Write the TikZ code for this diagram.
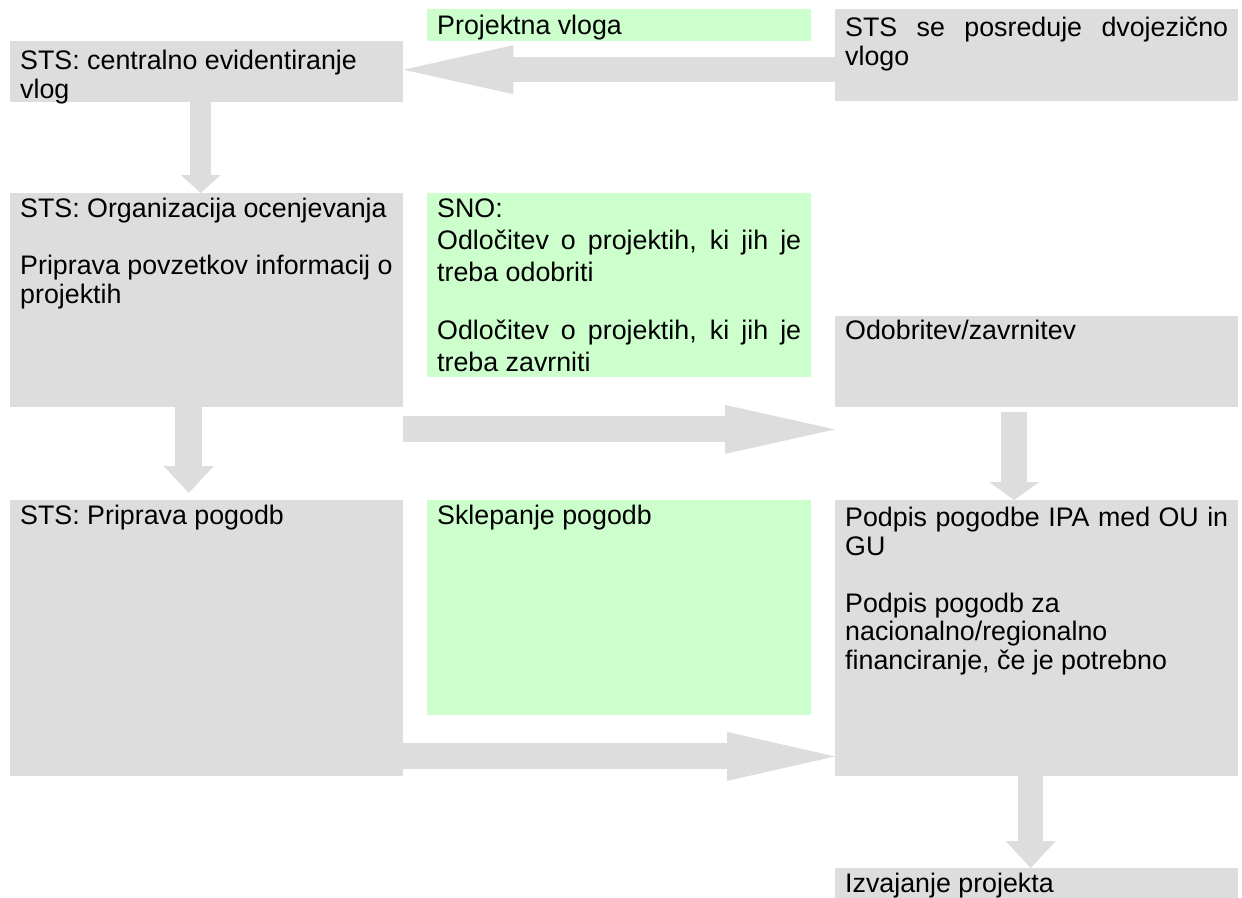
\documentclass[tikz,border=0pt]{standalone}
\usepackage{fontspec}
\setmainfont{Liberation Sans}
\usepackage{tikz}
\usetikzlibrary{arrows.meta}
\definecolor{boxGrey}{RGB}{221,221,221}
\definecolor{boxGreen}{RGB}{204,255,204}
\tikzstyle{flowchart} = [x = 1pt, y = -1pt, font=\fontsize{26.8}{28.5}\selectfont]
\tikzstyle{greyBox} = [fill=boxGrey, anchor=north west, inner xsep=10pt]
\tikzstyle{greenBox} = [fill=boxGreen, anchor=north west, inner xsep=10pt]
\tikzstyle{blockLine} = [draw=boxGrey]
\newcommand{\flowBox}[8]{\node [#2, inner ysep=#7pt] (#1) at (#3,#4) {\parbox[t][\dimexpr #6pt-#7pt-#7pt\relax][t]{\dimexpr #5pt-20pt\relax}{#8}};}
\newcommand{\blockArrow}[5]{\draw [blockLine, line width=#3pt, -{Triangle[length=#5pt, width=#4pt, line width=0pt]}] #1 -- #2;}

\begin{document}
\begin{tikzpicture}[flowchart]
          \useasboundingbox [fill=white] (0,0) rectangle (1242,897);
          \flowBox{projektnaVloga}{greenBox}{427}{9}{384}{30}{6}{Projektna vloga}
          \flowBox{centralnaEvid}{greyBox}{10}{41}{393}{61}{9}{STS: centralno evidentiranje\newline vlog}
          \flowBox{posredujeVlogo}{greyBox}{835}{9}{403}{92}{8}{STS se posreduje dvojezično\linebreak vlogo}
          \flowBox{organizacija}{greyBox}{10}{193}{393}{214}{5}{STS: Organizacija ocenjevanja\\[\baselineskip]Priprava povzetkov informacij o\newline projektih}
          \flowBox{odlocitevSNO}{greenBox}{427}{193}{384}{184}{6}{\fontsize{26.8}{32}\selectfont SNO:\newline Odločitev o projektih, ki jih je\linebreak treba odobriti\\[26pt]Odločitev o projektih, ki jih je\linebreak treba zavrniti}
          \flowBox{odobritev}{greyBox}{835}{316}{403}{91}{4}{Odobritev/zavrnitev}
          \flowBox{pripravaPogodb}{greyBox}{10}{500}{393}{276}{5}{STS: Priprava pogodb}
          \flowBox{sklepanje}{greenBox}{427}{500}{384}{215}{5}{Sklepanje pogodb}
          \flowBox{podpis}{greyBox}{835}{500}{403}{276}{7}{Podpis pogodbe IPA med OU in\linebreak GU\\[\baselineskip]Podpis pogodb za\newline nacionalno/regionalno\newline financiranje, če je potrebno}
          \flowBox{izvajanje}{greyBox}{835}{868}{403}{29}{5}{Izvajanje projekta}

          \blockArrow{([yshift=2pt]posredujeVlogo.west |- centralnaEvid.east)}{([yshift=2pt]centralnaEvid.east)}{25}{49}{110}
          \blockArrow{([xshift=-6pt]centralnaEvid.south)}{([xshift=-6pt]organizacija.north)}{21}{40}{18}
          \blockArrow{([xshift=-18pt, yshift=20pt]organizacija.south)}{([xshift=-18pt, yshift=7pt]pripravaPogodb.north)}{27}{50}{27}
          \blockArrow{([yshift=-22pt]organizacija.south east)}{([yshift=-22pt]odobritev.south west)}{26}{49}{110}
          \blockArrow{([xshift=-22.5pt, yshift=-5pt]odobritev.south)}{([xshift=-22.5pt]podpis.north)}{26}{50}{18}
          \blockArrow{([yshift=20pt]pripravaPogodb.south east)}{([yshift=20pt]podpis.south west)}{26}{49}{108}
          \blockArrow{([xshift=-6pt]podpis.south)}{([xshift=-6pt]izvajanje.north)}{25}{50}{27}
        \end{tikzpicture}
\end{document}
